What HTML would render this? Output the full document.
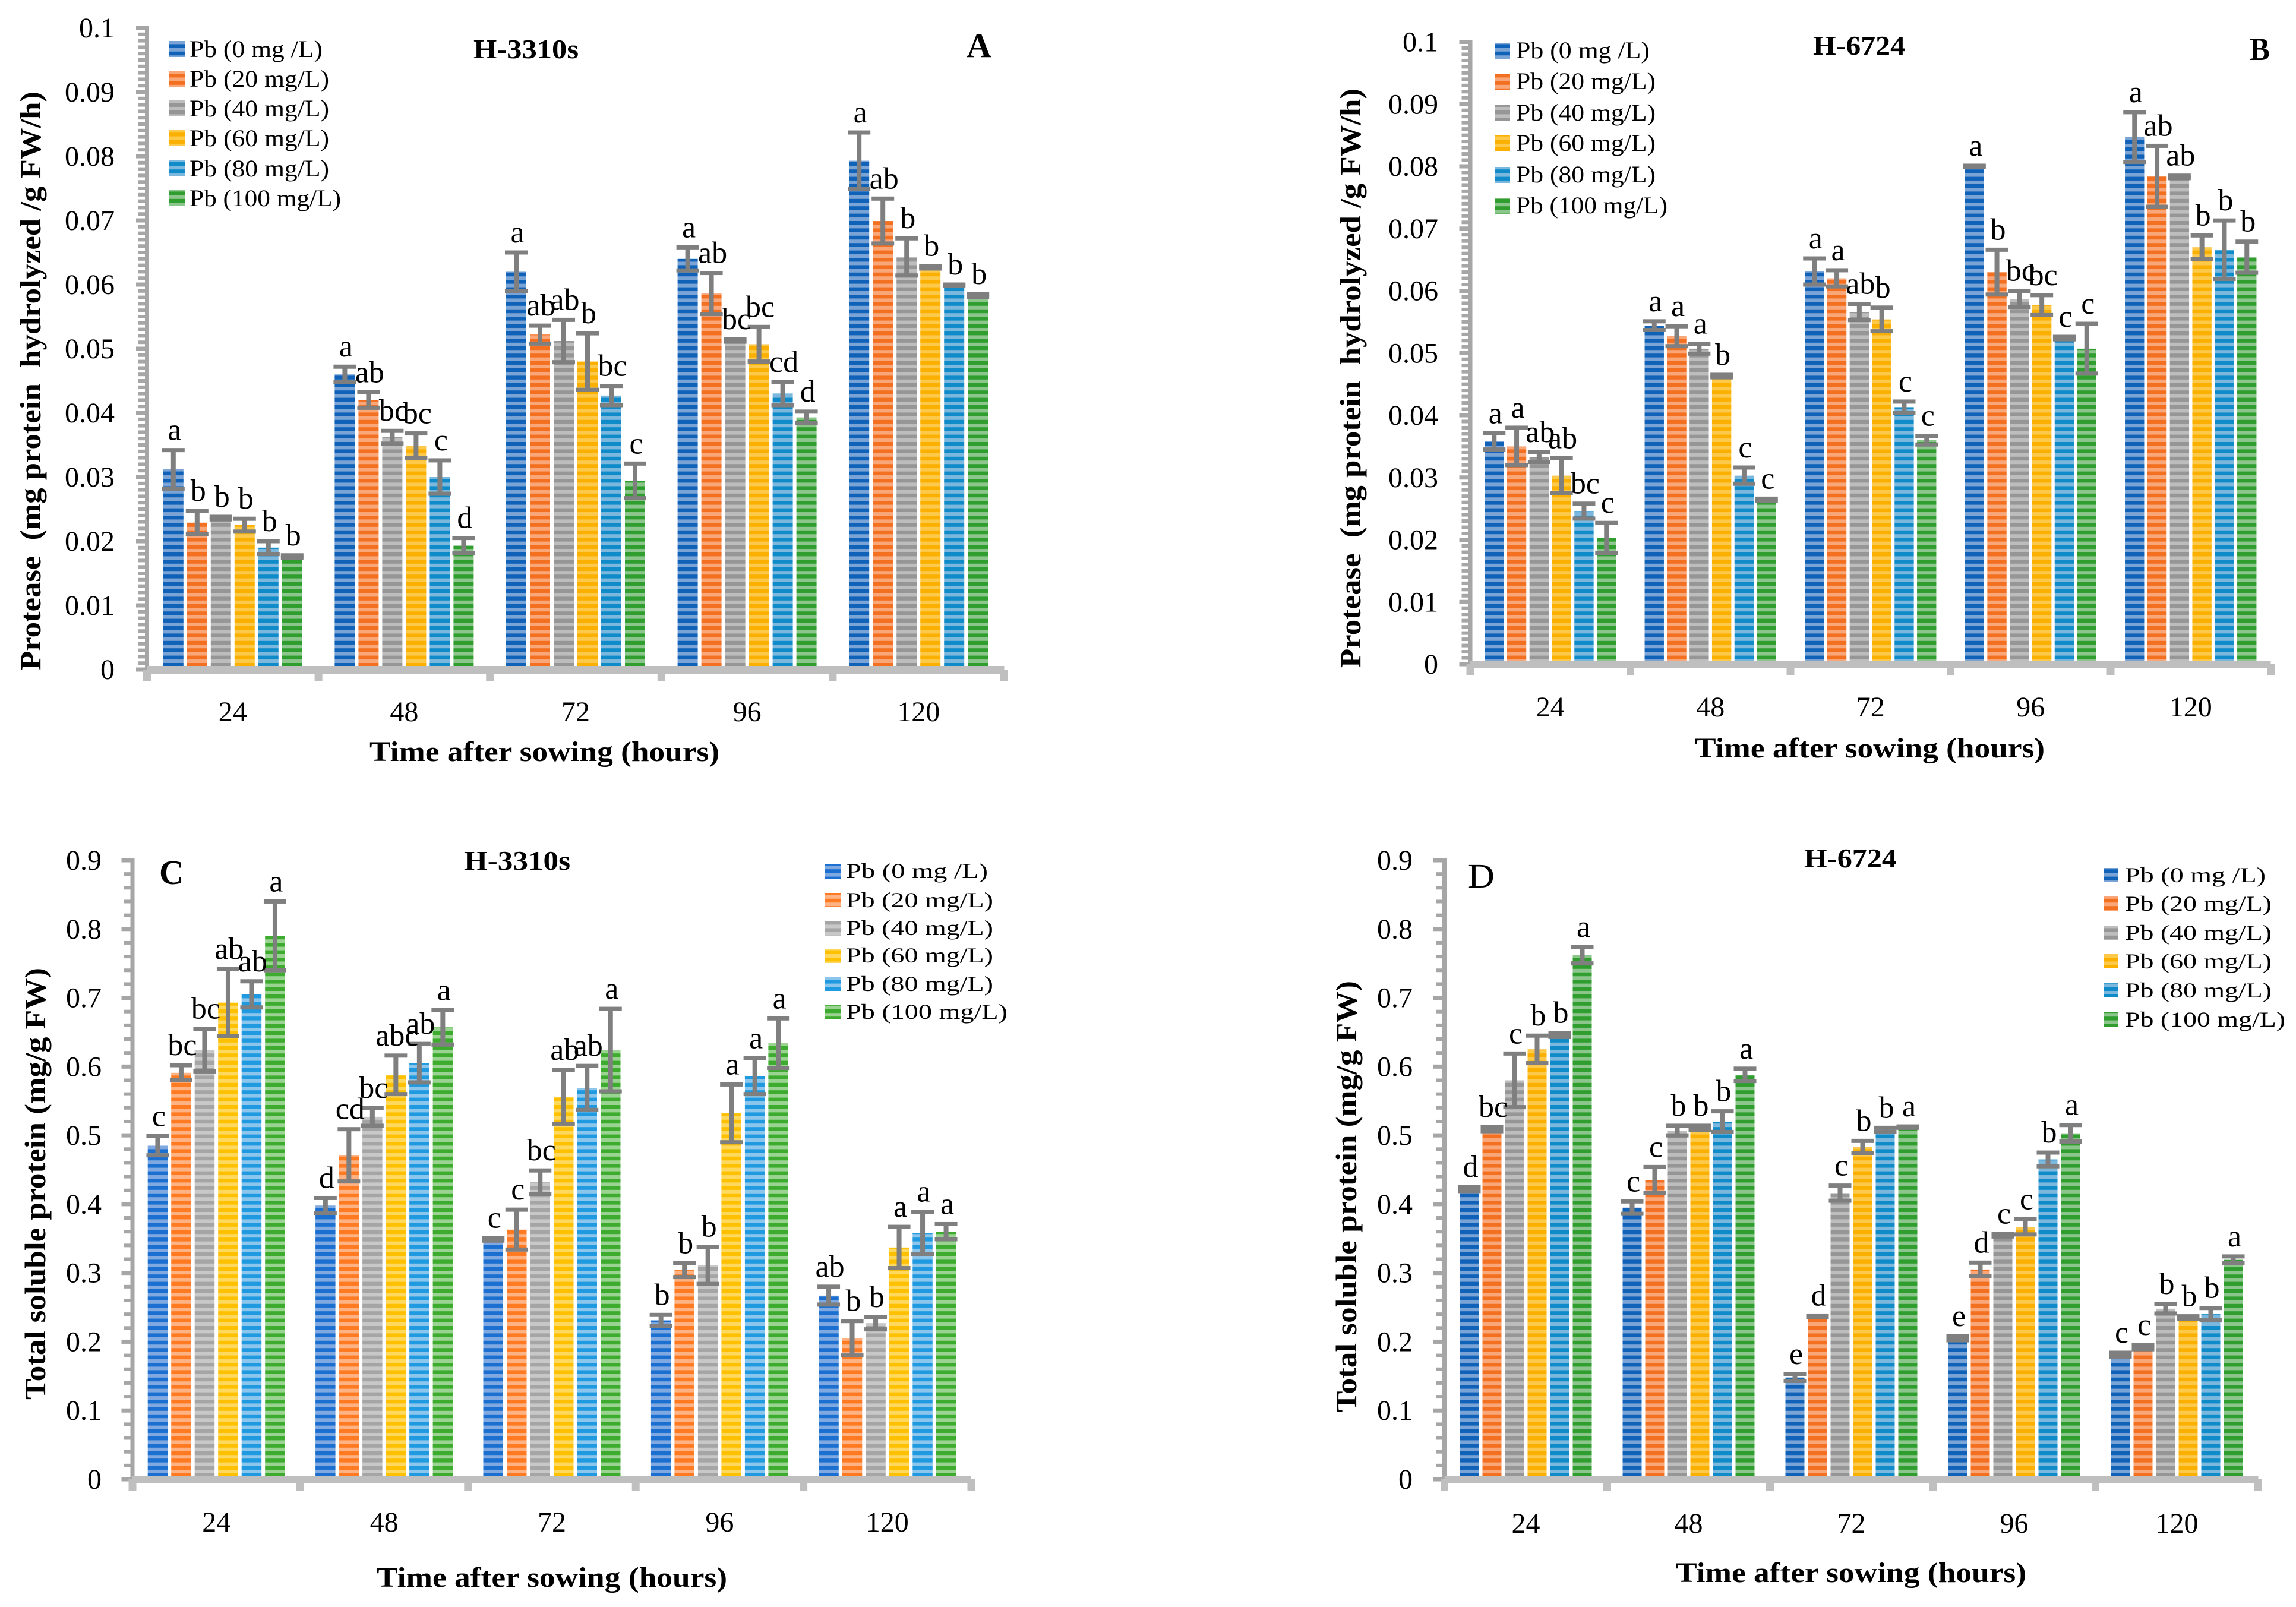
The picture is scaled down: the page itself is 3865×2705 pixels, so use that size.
<!DOCTYPE html>
<html lang="en">
<head>
<meta charset="utf-8">
<title>Protease and soluble protein under Pb stress</title>
<style>
html,body{margin:0;padding:0;background:#fff;}
svg{display:block;}
text{font-family:"Liberation Serif",serif;fill:#000;white-space:pre;}
.t-b{font-weight:bold;}
</style>
</head>
<body>
<svg id="fig" xmlns="http://www.w3.org/2000/svg" width="3865" height="2705" viewBox="0 0 3865 2705">
<defs>
  <pattern id="s0" width="4" height="12.4" patternUnits="userSpaceOnUse"><rect width="4" height="12.4" fill="#7aa3d6"/><rect width="4" height="6.4" fill="#0f62b8"/></pattern>
  <pattern id="s1" width="4" height="12.4" patternUnits="userSpaceOnUse"><rect width="4" height="12.4" fill="#f9a678"/><rect width="4" height="6.4" fill="#f37021"/></pattern>
  <pattern id="s2" width="4" height="12.4" patternUnits="userSpaceOnUse"><rect width="4" height="12.4" fill="#bdbdbd"/><rect width="4" height="6.4" fill="#969696"/></pattern>
  <pattern id="s3" width="4" height="12.4" patternUnits="userSpaceOnUse"><rect width="4" height="12.4" fill="#fdc94b"/><rect width="4" height="6.4" fill="#fbb000"/></pattern>
  <pattern id="s4" width="4" height="12.4" patternUnits="userSpaceOnUse"><rect width="4" height="12.4" fill="#7cb8de"/><rect width="4" height="6.4" fill="#0e8bc8"/></pattern>
  <pattern id="s5" width="4" height="12.4" patternUnits="userSpaceOnUse"><rect width="4" height="12.4" fill="#8cc68c"/><rect width="4" height="6.4" fill="#2f9e2f"/></pattern>
  <pattern id="c0" width="4" height="12.4" patternUnits="userSpaceOnUse"><rect width="4" height="12.4" fill="#7fa9e0"/><rect width="4" height="6.4" fill="#1a6fd0"/></pattern>
  <pattern id="c1" width="4" height="12.4" patternUnits="userSpaceOnUse"><rect width="4" height="12.4" fill="#ffb283"/><rect width="4" height="6.4" fill="#ff7a20"/></pattern>
  <pattern id="c2" width="4" height="12.4" patternUnits="userSpaceOnUse"><rect width="4" height="12.4" fill="#c8c8c8"/><rect width="4" height="6.4" fill="#a5a5a5"/></pattern>
  <pattern id="c3" width="4" height="12.4" patternUnits="userSpaceOnUse"><rect width="4" height="12.4" fill="#ffd95e"/><rect width="4" height="6.4" fill="#ffc000"/></pattern>
  <pattern id="c4" width="4" height="12.4" patternUnits="userSpaceOnUse"><rect width="4" height="12.4" fill="#8cc6ec"/><rect width="4" height="6.4" fill="#1f9ae0"/></pattern>
  <pattern id="c5" width="4" height="12.4" patternUnits="userSpaceOnUse"><rect width="4" height="12.4" fill="#9bd492"/><rect width="4" height="6.4" fill="#3cab2e"/></pattern>
</defs>

<!-- Panel A -->
<g id="panel-a">
  <text class="t-b" x="797" y="98" font-size="46" textLength="177" lengthAdjust="spacingAndGlyphs">H-3310s</text>
  <text class="t-b" x="1627" y="96" font-size="58" textLength="42" lengthAdjust="spacingAndGlyphs">A</text>
  <text class="t-b" transform="translate(68,1128) rotate(-90)" font-size="50" textLength="974" lengthAdjust="spacingAndGlyphs">Protease  (mg protein  hydrolyzed /g FW/h)</text>
  <text class="t-b" x="622" y="1281" font-size="48" textLength="589" lengthAdjust="spacingAndGlyphs">Time after sowing (hours)</text>
  <g>
    <rect x="284" y="69" width="27" height="27" fill="url(#s0)"/>
    <text x="319" y="96" font-size="40" textLength="224" lengthAdjust="spacingAndGlyphs">Pb (0 mg /L)</text>
    <rect x="284" y="119" width="27" height="27" fill="url(#s1)"/>
    <text x="319" y="146" font-size="40" textLength="235" lengthAdjust="spacingAndGlyphs">Pb (20 mg/L)</text>
    <rect x="284" y="169" width="27" height="27" fill="url(#s2)"/>
    <text x="319" y="196" font-size="40" textLength="235" lengthAdjust="spacingAndGlyphs">Pb (40 mg/L)</text>
    <rect x="284" y="219" width="27" height="27" fill="url(#s3)"/>
    <text x="319" y="246" font-size="40" textLength="235" lengthAdjust="spacingAndGlyphs">Pb (60 mg/L)</text>
    <rect x="284" y="270" width="27" height="27" fill="url(#s4)"/>
    <text x="319" y="297" font-size="40" textLength="235" lengthAdjust="spacingAndGlyphs">Pb (80 mg/L)</text>
    <rect x="284" y="320" width="27" height="27" fill="url(#s5)"/>
    <text x="319" y="347" font-size="40" textLength="255" lengthAdjust="spacingAndGlyphs">Pb (100 mg/L)</text>
  </g>
</g>

<!-- Panel B -->
<g id="panel-b">
  <text class="t-b" x="3052" y="92" font-size="46" textLength="155" lengthAdjust="spacingAndGlyphs">H-6724</text>
  <text class="t-b" x="3787" y="101" font-size="54" textLength="34" lengthAdjust="spacingAndGlyphs">B</text>
  <text class="t-b" transform="translate(2290,1124) rotate(-90)" font-size="50" textLength="975" lengthAdjust="spacingAndGlyphs">Protease  (mg protein  hydrolyzed /g FW/h)</text>
  <text class="t-b" x="2853" y="1275" font-size="48" textLength="589" lengthAdjust="spacingAndGlyphs">Time after sowing (hours)</text>
  <g>
    <rect x="2517" y="72" width="25" height="27" fill="url(#s0)"/>
    <text x="2552" y="98" font-size="40" textLength="225" lengthAdjust="spacingAndGlyphs">Pb (0 mg /L)</text>
    <rect x="2517" y="124" width="25" height="27" fill="url(#s1)"/>
    <text x="2552" y="150" font-size="40" textLength="235" lengthAdjust="spacingAndGlyphs">Pb (20 mg/L)</text>
    <rect x="2517" y="176" width="25" height="27" fill="url(#s2)"/>
    <text x="2552" y="203" font-size="40" textLength="235" lengthAdjust="spacingAndGlyphs">Pb (40 mg/L)</text>
    <rect x="2517" y="228" width="25" height="27" fill="url(#s3)"/>
    <text x="2552" y="254" font-size="40" textLength="235" lengthAdjust="spacingAndGlyphs">Pb (60 mg/L)</text>
    <rect x="2517" y="281" width="25" height="27" fill="url(#s4)"/>
    <text x="2552" y="307" font-size="40" textLength="235" lengthAdjust="spacingAndGlyphs">Pb (80 mg/L)</text>
    <rect x="2517" y="333" width="25" height="27" fill="url(#s5)"/>
    <text x="2552" y="359" font-size="40" textLength="255" lengthAdjust="spacingAndGlyphs">Pb (100 mg/L)</text>
  </g>
</g>

<!-- Panel C -->
<g id="panel-c">
  <text class="t-b" x="781" y="1464" font-size="46" textLength="179" lengthAdjust="spacingAndGlyphs">H-3310s</text>
  <text class="t-b" x="268" y="1488" font-size="58" textLength="41" lengthAdjust="spacingAndGlyphs">C</text>
  <text class="t-b" transform="translate(76,2356) rotate(-90)" font-size="50" textLength="727" lengthAdjust="spacingAndGlyphs">Total soluble protein (mg/g FW)</text>
  <text class="t-b" x="634" y="2671" font-size="48" textLength="590" lengthAdjust="spacingAndGlyphs">Time after sowing (hours)</text>
  <g>
    <rect x="1389" y="1455" width="26" height="24" fill="url(#c0)"/>
    <text x="1424" y="1478" font-size="36" textLength="239" lengthAdjust="spacingAndGlyphs">Pb (0 mg /L)</text>
    <rect x="1389" y="1503" width="26" height="24" fill="url(#c1)"/>
    <text x="1424" y="1527" font-size="36" textLength="248" lengthAdjust="spacingAndGlyphs">Pb (20 mg/L)</text>
    <rect x="1389" y="1551" width="26" height="24" fill="url(#c2)"/>
    <text x="1424" y="1574" font-size="36" textLength="248" lengthAdjust="spacingAndGlyphs">Pb (40 mg/L)</text>
    <rect x="1389" y="1597" width="26" height="24" fill="url(#c3)"/>
    <text x="1424" y="1620" font-size="36" textLength="248" lengthAdjust="spacingAndGlyphs">Pb (60 mg/L)</text>
    <rect x="1389" y="1644" width="26" height="24" fill="url(#c4)"/>
    <text x="1424" y="1668" font-size="36" textLength="248" lengthAdjust="spacingAndGlyphs">Pb (80 mg/L)</text>
    <rect x="1389" y="1691" width="26" height="24" fill="url(#c5)"/>
    <text x="1424" y="1715" font-size="36" textLength="272" lengthAdjust="spacingAndGlyphs">Pb (100 mg/L)</text>
  </g>
</g>

<!-- Panel D -->
<g id="panel-d">
  <text class="t-b" x="3037" y="1460" font-size="46" textLength="156" lengthAdjust="spacingAndGlyphs">H-6724</text>
  <text x="2471" y="1494" font-size="58" textLength="45" lengthAdjust="spacingAndGlyphs">D</text>
  <text class="t-b" transform="translate(2283,2377) rotate(-90)" font-size="50" textLength="726" lengthAdjust="spacingAndGlyphs">Total soluble protein (mg/g FW)</text>
  <text class="t-b" x="2821" y="2663" font-size="48" textLength="590" lengthAdjust="spacingAndGlyphs">Time after sowing (hours)</text>
  <g>
    <rect x="3541" y="1461" width="25" height="24" fill="url(#s0)"/>
    <text x="3577" y="1485" font-size="36" textLength="237" lengthAdjust="spacingAndGlyphs">Pb (0 mg /L)</text>
    <rect x="3541" y="1509" width="25" height="24" fill="url(#s1)"/>
    <text x="3577" y="1533" font-size="36" textLength="247" lengthAdjust="spacingAndGlyphs">Pb (20 mg/L)</text>
    <rect x="3541" y="1558" width="25" height="24" fill="url(#s2)"/>
    <text x="3577" y="1582" font-size="36" textLength="247" lengthAdjust="spacingAndGlyphs">Pb (40 mg/L)</text>
    <rect x="3541" y="1606" width="25" height="24" fill="url(#s3)"/>
    <text x="3577" y="1630" font-size="36" textLength="247" lengthAdjust="spacingAndGlyphs">Pb (60 mg/L)</text>
    <rect x="3541" y="1655" width="25" height="24" fill="url(#s4)"/>
    <text x="3577" y="1679" font-size="36" textLength="247" lengthAdjust="spacingAndGlyphs">Pb (80 mg/L)</text>
    <rect x="3541" y="1704" width="25" height="24" fill="url(#s5)"/>
    <text x="3577" y="1728" font-size="36" textLength="270" lengthAdjust="spacingAndGlyphs">Pb (100 mg/L)</text>
  </g>
</g>
</svg>

<script>
// Shared categories and tick labels
const categories = ['24', '48', '72', '96', '120'];
const proteaseTicks = ['0', '0.01', '0.02', '0.03', '0.04', '0.05', '0.06', '0.07', '0.08', '0.09', '0.1'];
const proteinTicks = ['0', '0.1', '0.2', '0.3', '0.4', '0.5', '0.6', '0.7', '0.8', '0.9'];

// Each row is one time point; each column is one Pb level (0, 20, 40, 60, 80, 100 mg/L)
const panelAValues = [
  [0.0312, 0.0229, 0.0236, 0.0225, 0.0190, 0.0176],
  [0.0460, 0.0420, 0.0362, 0.0349, 0.0300, 0.0193],
  [0.0620, 0.0522, 0.0512, 0.0480, 0.0427, 0.0294],
  [0.0640, 0.0586, 0.0513, 0.0507, 0.0430, 0.0393],
  [0.0793, 0.0699, 0.0643, 0.0627, 0.0599, 0.0583]
];
const panelAErrors = [
  [0.0030, 0.0018, 0.0002, 0.0010, 0.0010, 0.0002],
  [0.0012, 0.0012, 0.0010, 0.0019, 0.0026, 0.0012],
  [0.0030, 0.0014, 0.0033, 0.0044, 0.0015, 0.0027],
  [0.0018, 0.0032, 0.0002, 0.0027, 0.0018, 0.0009],
  [0.0044, 0.0035, 0.0029, 0.0002, 0.0001, 0.0002]
];
const panelALetters = [
  ['a', 'b', 'b', 'b', 'b', 'b'],
  ['a', 'ab', 'bc', 'bc', 'c', 'd'],
  ['a', 'ab', 'ab', 'b', 'bc', 'c'],
  ['a', 'ab', 'bc', 'bc', 'cd', 'd'],
  ['a', 'ab', 'b', 'b', 'b', 'b']
];

const panelBValues = [
  [0.0358, 0.0350, 0.0333, 0.0303, 0.0246, 0.0203],
  [0.0544, 0.0527, 0.0507, 0.0463, 0.0303, 0.0264],
  [0.0631, 0.0620, 0.0566, 0.0554, 0.0413, 0.0360],
  [0.0800, 0.0630, 0.0587, 0.0577, 0.0524, 0.0507],
  [0.0847, 0.0784, 0.0783, 0.0670, 0.0666, 0.0654]
];
const panelBErrors = [
  [0.0013, 0.0030, 0.0008, 0.0028, 0.0012, 0.0024],
  [0.0007, 0.0016, 0.0008, 0.0002, 0.0013, 0.0002],
  [0.0021, 0.0013, 0.0013, 0.0019, 0.0009, 0.0007],
  [0.0001, 0.0036, 0.0013, 0.0016, 0.0002, 0.0040],
  [0.0040, 0.0049, 0.0002, 0.0019, 0.0047, 0.0025]
];
const panelBLetters = [
  ['a', 'a', 'ab', 'ab', 'bc', 'c'],
  ['a', 'a', 'a', 'b', 'c', 'c'],
  ['a', 'a', 'ab', 'b', 'c', 'c'],
  ['a', 'b', 'bc', 'bc', 'c', 'c'],
  ['a', 'ab', 'ab', 'b', 'b', 'b']
];

const panelCValues = [
  [0.485, 0.591, 0.624, 0.693, 0.705, 0.790],
  [0.398, 0.471, 0.527, 0.588, 0.605, 0.657],
  [0.349, 0.363, 0.432, 0.556, 0.569, 0.624],
  [0.231, 0.304, 0.311, 0.532, 0.586, 0.634],
  [0.267, 0.205, 0.227, 0.337, 0.358, 0.360]
];
const panelCErrors = [
  [0.014, 0.011, 0.031, 0.049, 0.019, 0.050],
  [0.011, 0.038, 0.013, 0.028, 0.028, 0.025],
  [0.002, 0.029, 0.017, 0.039, 0.032, 0.060],
  [0.008, 0.010, 0.027, 0.042, 0.026, 0.036],
  [0.013, 0.025, 0.009, 0.030, 0.031, 0.011]
];
const panelCLetters = [
  ['c', 'bc', 'bc', 'ab', 'ab', 'a'],
  ['d', 'cd', 'bc', 'abc', 'ab', 'a'],
  ['c', 'c', 'bc', 'ab', 'ab', 'a'],
  ['b', 'b', 'b', 'a', 'a', 'a'],
  ['ab', 'b', 'b', 'a', 'a', 'a']
];

const panelDValues = [
  [0.422, 0.509, 0.580, 0.625, 0.646, 0.762],
  [0.395, 0.435, 0.507, 0.511, 0.520, 0.588],
  [0.148, 0.237, 0.416, 0.483, 0.508, 0.512],
  [0.205, 0.305, 0.355, 0.367, 0.465, 0.503],
  [0.181, 0.192, 0.248, 0.235, 0.240, 0.319]
];
const panelDErrors = [
  [0.003, 0.003, 0.039, 0.020, 0.003, 0.012],
  [0.009, 0.019, 0.007, 0.003, 0.015, 0.009],
  [0.005, 0.001, 0.011, 0.009, 0.003, 0.001],
  [0.003, 0.010, 0.002, 0.011, 0.010, 0.012],
  [0.003, 0.003, 0.007, 0.002, 0.009, 0.005]
];
const panelDLetters = [
  ['d', 'bc', 'c', 'b', 'b', 'a'],
  ['c', 'c', 'b', 'b', 'b', 'a'],
  ['e', 'd', 'c', 'b', 'b', 'a'],
  ['e', 'd', 'c', 'c', 'b', 'a'],
  ['c', 'c', 'b', 'b', 'b', 'a']
];

const SVG_NS = 'http://www.w3.org/2000/svg';

function shape(parent, tag, attrs) {
  const el = document.createElementNS(SVG_NS, tag);
  for (const k in attrs) el.setAttribute(k, attrs[k]);
  parent.appendChild(el);
  return el;
}

function label(parent, str, x, y, size, anchor) {
  const el = shape(parent, 'text', { x: x, y: y, 'font-size': size, 'text-anchor': anchor });
  el.textContent = str;
  return el;
}

function drawPanel(p) {
  const root = document.getElementById(p.id);
  const nCats = categories.length;
  const nSeries = p.values[0].length;

  // Axis functions
  const xCat = (i) => p.x0 + i * p.catW;
  const xBar = (i, s) => xCat(i) + (p.catW - p.pitch * nSeries + (p.pitch - p.barW)) / 2 + s * p.pitch;
  const yVal = (v) => p.y0 - (v / p.yMax) * (p.y0 - p.yTop);

  // Bars
  const barsG = shape(root, 'g', {});
  
  
  p.values.forEach((row, i) => {
    row.forEach((v, s) => {
      const top = yVal(v);
      const bar = shape(barsG, 'rect', {
        x: xBar(i, s), y: top, width: p.barW, height: Math.max(0, p.y0 - top),
        fill: 'url(#' + p.fill + s + ')'
      });
      
      
    });
  });

  // Y axis: band, major and minor ticks, tick labels
  const axisY = shape(root, 'g', {});
  
  
  const yBand = shape(axisY, 'rect', { x: p.x0 - 3.5, y: p.yTop - 3, width: 7, height: p.y0 - p.yTop + 6, fill: '#a6a6a6' });
  
  
  p.ticks.forEach((t, idx) => {
    const v = parseFloat(t);
    const yy = yVal(v);
    const major = shape(axisY, 'rect', { x: p.x0 - 18.5, y: yy - 3.5, width: 15, height: 7, fill: '#a6a6a6' });
    
    
    const txt = label(axisY, t, p.tickRight, yy + 16, 48, 'end');
    
    
    if (idx < p.ticks.length - 1) {
      const next = parseFloat(p.ticks[idx + 1]);
      for (let m = 1; m < p.minorPerMajor; m++) {
        const ym = yVal(v + (next - v) * m / p.minorPerMajor);
        const minor = shape(axisY, 'rect', { x: p.x0 - 14.5, y: ym - 3, width: 11, height: 6, fill: '#a6a6a6' });
        
        
      }
    }
  });

  // X axis: band, ticks, category labels
  const axisX = shape(root, 'g', {});
  
  
  const xBand = shape(axisX, 'rect', { x: p.x0, y: p.y0 - 6, width: p.catW * nCats, height: 13, fill: '#bfbfbf' });
  
  
  for (let i = 0; i <= nCats; i++) {
    const tick = shape(axisX, 'rect', { x: xCat(i) - 6.5, y: p.y0, width: 13, height: 19, fill: '#bfbfbf' });
    
    
  }
  categories.forEach((c, i) => {
    const txt = label(axisX, c, xCat(i) + p.catW / 2, p.xTickBase, 48, 'middle');
    
    
  });

  // Error bars and significance letters
  const errG = shape(root, 'g', {});
  
  
  const letG = shape(root, 'g', {});
  
  
  p.values.forEach((row, i) => {
    row.forEach((v, s) => {
      const cx = xBar(i, s) + p.barW / 2;
      const e = p.errors[i][s];
      const yHi = yVal(v + e);
      const yLo = yVal(v - e);
      const stem = shape(errG, 'rect', { x: cx - 4, y: yHi, width: 8, height: yLo - yHi, fill: '#7f7f7f' });
      
      
      const capTop = shape(errG, 'rect', { x: cx - 19, y: yHi - 3.5, width: 38, height: 7, fill: '#7f7f7f' });
      
      
      const capBottom = shape(errG, 'rect', { x: cx - 19, y: yLo - 3.5, width: 38, height: 7, fill: '#7f7f7f' });
      
      
      const letter = label(letG, p.letters[i][s], cx + 2, yHi - 17, 52, 'middle');
      
      
    });
  });
}

drawPanel({ id: 'panel-a', fill: 's', values: panelAValues, errors: panelAErrors, letters: panelALetters, ticks: proteaseTicks,
  yMax: 0.1, minorPerMajor: 10, x0: 247.5, catW: 288.6, y0: 1127, yTop: 47, pitch: 40, barW: 34, tickRight: 193, xTickBase: 1214 });
drawPanel({ id: 'panel-b', fill: 's', values: panelBValues, errors: panelBErrors, letters: panelBLetters, ticks: proteaseTicks,
  yMax: 0.1, minorPerMajor: 10, x0: 2475, catW: 269.5, y0: 1118, yTop: 70.5, pitch: 37.8, barW: 32.4, tickRight: 2421, xTickBase: 1206 });
drawPanel({ id: 'panel-c', fill: 'c', values: panelCValues, errors: panelCErrors, letters: panelCLetters, ticks: proteinTicks,
  yMax: 0.9, minorPerMajor: 5, x0: 223, catW: 282.4, y0: 2490, yTop: 1448, pitch: 39.5, barW: 33.5, tickRight: 171, xTickBase: 2578 });
drawPanel({ id: 'panel-d', fill: 's', values: panelDValues, errors: panelDErrors, letters: panelDLetters, ticks: proteinTicks,
  yMax: 0.9, minorPerMajor: 5, x0: 2431.5, catW: 274, y0: 2490, yTop: 1448, pitch: 38, barW: 32, tickRight: 2378, xTickBase: 2580 });
</script>
</body>
</html>
